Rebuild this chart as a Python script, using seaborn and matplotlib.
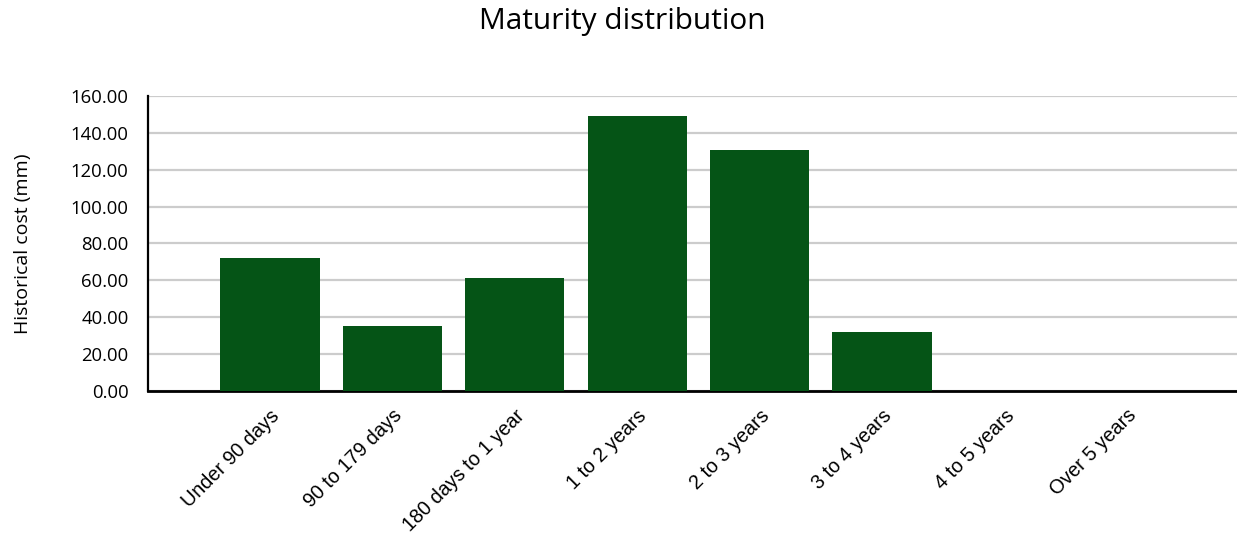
import matplotlib
matplotlib.use("Agg")
import matplotlib.pyplot as plt
import seaborn as sns
import pandas as pd
from matplotlib.ticker import FuncFormatter, MultipleLocator

categories = ["Under 90 days", "90 to 179 days", "180 days to 1 year", "1 to 2 years",
              "2 to 3 years", "3 to 4 years", "4 to 5 years", "Over 5 years"]
values = [72.0, 35.1, 61.2, 149.1, 130.7, 31.9, 0.0, 0.0]

title = "Maturity distribution"
ylabel = "Historical cost (mm)"

sns.set_style("white")
df = pd.DataFrame({"cat": categories, "val": values})

fig = plt.figure(figsize=(12.37, 5.39), dpi=100)
ax = fig.add_axes([148/1237, 1 - 390.7/539, 1 - 148/1237, (390.7 - 96)/539])

sns.barplot(data=df, x="cat", y="val", color="#055416", width=0.81, saturation=1,
            linewidth=0, ax=ax, zorder=3)

ax.set_ylim(0, 160)
ax.set_xlim(-0.997, 7.9)
ax.yaxis.set_major_locator(MultipleLocator(20))
ax.yaxis.set_major_formatter(FuncFormatter(lambda v, p: f"{v:.2f}"))
ax.grid(axis="y", color="#cccccc", linewidth=1.6, zorder=0)
ax.grid(axis="x", visible=False)
ax.set_axisbelow(True)

for s in ["top", "right"]:
    ax.spines[s].set_visible(False)
ax.spines["left"].set_color("black")
ax.spines["left"].set_linewidth(1.6)
ax.spines["bottom"].set_color("black")
ax.spines["bottom"].set_linewidth(2.0)
ax.tick_params(axis="both", length=0)
ax.tick_params(axis="y", pad=14)

for lab in ax.get_yticklabels():
    lab.set_fontfamily("Open Sans")
    lab.set_fontsize(13.3)
    lab.set_color("black")

ax.set_xticks(range(len(categories)))
ax.set_xticklabels(categories, rotation=45, ha="right", rotation_mode="anchor",
                   fontfamily="Liberation Sans", fontsize=14.2, color="black")
ax.tick_params(axis="x", pad=11)

ax.set_xlabel("")
ax.set_ylabel(ylabel, fontfamily="Open Sans", fontsize=14, color="black")
ax.yaxis.set_label_coords((32 - 148) / (1237 - 148), 0.5)

fig.text(622/1237, 1 - 22/539, title, ha="center", va="center",
         fontfamily="Open Sans", fontsize=21.5, color="black")

fig.savefig("out.png", dpi=100)
